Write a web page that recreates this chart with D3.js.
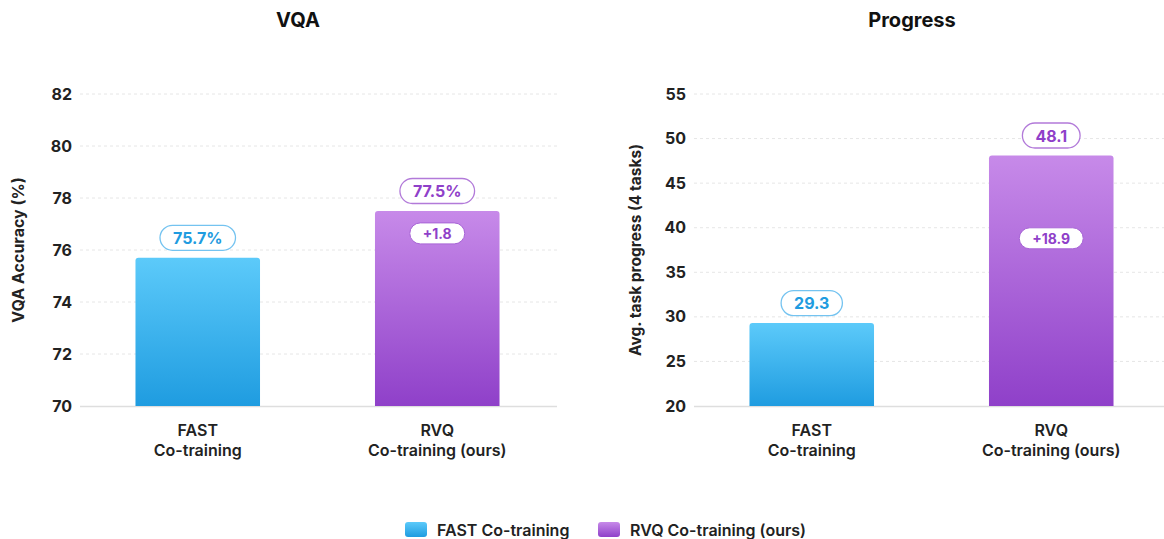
<!DOCTYPE html>
<html><head><meta charset="utf-8">
<script src="https://cdn.jsdelivr.net/npm/d3@7"></script>
<style>
body{margin:0;background:#fff;}
svg{display:block;font-family:Inter,"Noto Sans",sans-serif;}
</style></head>
<body><svg id="c" width="1164" height="539"></svg>
<script>
const categories = ["FAST Co-training", "RVQ Co-training (ours)"];
const catLines = [["FAST","Co-training"],["RVQ","Co-training (ours)"]];
const vqaValues = [75.7, 77.5];
const vqaLabels = ["75.7%", "77.5%"];
const vqaDelta = "+1.8";
const vqaTicks = [70,72,74,76,78,80,82];
const progValues = [29.3, 48.1];
const progLabels = ["29.3", "48.1"];
const progDelta = "+18.9";
const progTicks = [20,25,30,35,40,45,50,55];

const svg = d3.select("#c");
const defs = svg.append("defs");
const grads = [["gBlue","#5ccafa","#1f9ce0"],["gPurple","#c78ae9","#8f40c9"]];
grads.forEach(([id,t,b])=>{
  const g = defs.append("linearGradient").attr("id",id).attr("x1",0).attr("y1",0).attr("x2",0).attr("y2",1);
  g.append("stop").attr("offset","0%").attr("stop-color",t);
  g.append("stop").attr("offset","100%").attr("stop-color",b);
});
const textCol = ["#1f9ce0","#8f40c9"];
const borderCol = ["#74c3f0","#b27ad9"];

function pill(parent, cx, cy, label, size, h, color, stroke, sw){
  const pg = parent.append("g");
  const rect = pg.append("rect");
  const t = pg.append("text").attr("x",cx).attr("y",cy).attr("text-anchor","middle")
    .attr("dominant-baseline","central").attr("font-size",size).attr("font-weight",700)
    .attr("fill",color).text(label);
  const w = t.node().getComputedTextLength() + 26;
  rect.attr("x",cx-w/2).attr("y",cy-h/2).attr("width",w).attr("height",h)
    .attr("rx",h/2).attr("fill","#fff").attr("stroke",stroke).attr("stroke-width",sw);
}

function panel(opt){
  const x = d3.scaleBand().domain(categories).range(opt.xr).paddingInner(0.48).paddingOuter(0.24);
  const y = d3.scaleLinear().domain(opt.domain).range([406,94]);
  const g = svg.append("g");
  g.selectAll(".grid").data(opt.ticks.slice(1)).join("line")
    .attr("x1",opt.xr[0]+2).attr("x2",opt.xr[1]).attr("y1",d=>y(d)).attr("y2",d=>y(d))
    .attr("stroke","#e6e6e6").attr("stroke-dasharray","3,3").attr("stroke-width",1);
  const ya = g.append("g").attr("transform",`translate(${opt.xr[0]},0)`)
    .call(d3.axisLeft(y).tickValues(opt.ticks).tickSize(0).tickPadding(6));
  ya.select(".domain").remove();
  ya.attr("font-family",null).attr("font-size",null);
  ya.selectAll("text").attr("font-size",16).attr("font-weight",700).attr("fill","#222");
  g.append("line").attr("x1",opt.xr[0]+2).attr("x2",opt.xr[1]).attr("y1",406.5).attr("y2",406.5)
    .attr("stroke","#dedede").attr("stroke-width",1.5);
  const r = 3;
  g.selectAll(".bar").data(opt.values).join("path")
    .attr("d",(d,i)=>{
      const x0 = x(categories[i]), w = x.bandwidth(), y0 = y(d), y1 = y(opt.domain[0]);
      return `M${x0},${y1}V${y0+r}Q${x0},${y0} ${x0+r},${y0}H${x0+w-r}Q${x0+w},${y0} ${x0+w},${y0+r}V${y1}Z`;
    })
    .attr("fill",(d,i)=>`url(#${grads[i][0]})`);
  opt.values.forEach((d,i)=>{
    const cx = x(categories[i]) + x.bandwidth()/2;
    pill(g, cx, y(d)-20, opt.labels[i], 16, 25, textCol[i], borderCol[i], 1.3);
  });
  {
    const cx = x(categories[1]) + x.bandwidth()/2;
    const cy = (y(opt.values[0]) + y(opt.values[1]))/2 - 1;
    pill(g, cx, cy, opt.delta, 14, 21, textCol[1], "#a865d6", 1);
  }
  catLines.forEach((lines,i)=>{
    const cx = x(categories[i]) + x.bandwidth()/2;
    const t = g.append("text").attr("text-anchor","middle").attr("font-size",16).attr("font-weight",600).attr("fill","#222");
    lines.forEach((l,j)=>t.append("tspan").attr("x",cx).attr("y",436+j*20).text(l));
  });
  g.append("text").attr("x",opt.titleX).attr("y",27).attr("text-anchor","middle")
    .attr("font-size",20).attr("font-weight",700).attr("fill","#111").text(opt.title);
  g.append("text").attr("transform",`translate(${opt.ytX},250) rotate(-90)`).attr("text-anchor","middle")
    .attr("font-size",opt.ytSize).attr("font-weight",700).attr("fill","#222").text(opt.ytitle);
}

panel({xr:[78,557],domain:[70,82],ticks:vqaTicks,values:vqaValues,labels:vqaLabels,delta:vqaDelta,
  title:"VQA",titleX:298,ytitle:"VQA Accuracy (%)",ytX:24,ytSize:16});
panel({xr:[692,1171],domain:[20,55],ticks:progTicks,values:progValues,labels:progLabels,delta:progDelta,
  title:"Progress",titleX:912,ytitle:"Avg. task progress (4 tasks)",ytX:641,ytSize:15.5});

const leg = svg.append("g");
const legX = [405, 598];
categories.forEach((c,i)=>{
  leg.append("rect").attr("x",legX[i]).attr("y",522).attr("width",22).attr("height",15).attr("rx",3)
    .attr("fill",`url(#${grads[i][0]})`);
  leg.append("text").attr("x",legX[i]+32).attr("y",530).attr("dominant-baseline","central")
    .attr("font-size",16).attr("font-weight",600).attr("fill","#222").text(c);
});
</script></body></html>
